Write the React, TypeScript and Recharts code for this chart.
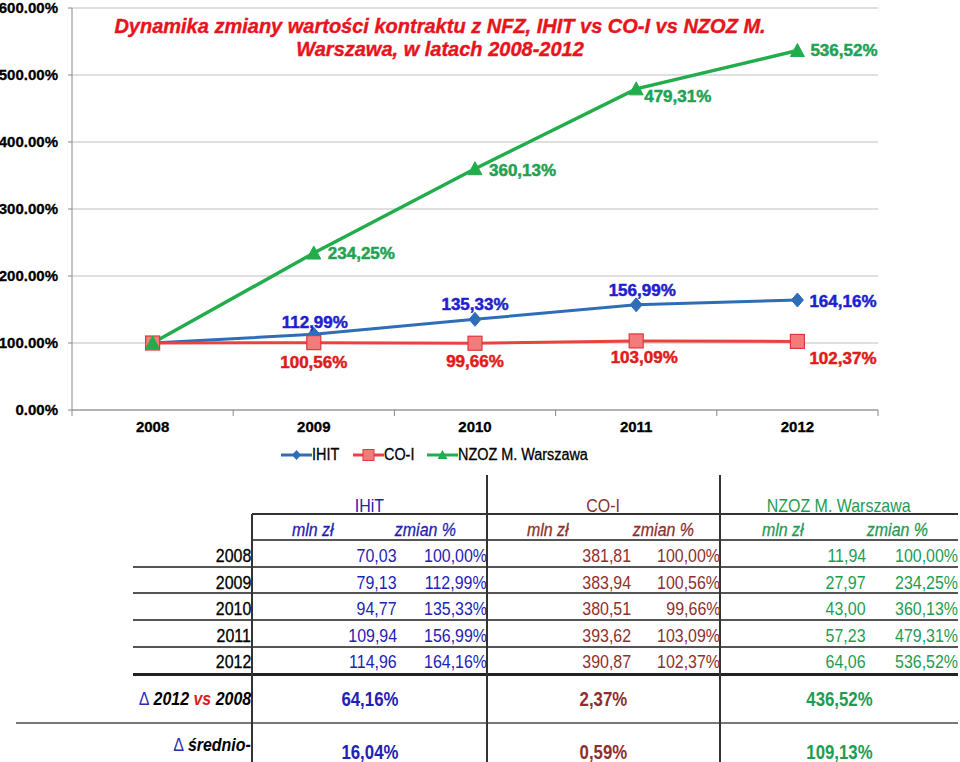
import React from "react";
import {
  LineChart,
  Line,
  XAxis,
  YAxis,
  CartesianGrid,
  Legend,
  LabelList,
} from "recharts";

// lata
const years = ["2008", "2009", "2010", "2011", "2012"];

// wartość kontraktu, mln zł
const ihitMln = [70.03, 79.13, 94.77, 109.94, 114.96];
const coiMln = [381.81, 383.94, 380.51, 393.62, 390.87];
const nzozMln = [11.94, 27.97, 43.0, 57.23, 64.06];

// dynamika, % (2008 = 100)
const ihitPct = [100.0, 112.99, 135.33, 156.99, 164.16];
const coiPct = [100.0, 100.56, 99.66, 103.09, 102.37];
const nzozPct = [100.0, 234.25, 360.13, 479.31, 536.52];

// podsumowanie
const delta2012vs2008 = [64.16, 2.37, 436.52];
const deltaAvg = [16.04, 0.59, 109.13];

const yTicks = [0, 100, 200, 300, 400, 500, 600];

const seriesNames = ["IHIT", "CO-I", "NZOZ M. Warszawa"];
const tableGroups = ["IHiT", "CO-I", "NZOZ M. Warszawa"];

const chartData = years.map((year, i) => ({
  year,
  ihit: ihitPct[i],
  coi: coiPct[i],
  nzoz: nzozPct[i],
}));

const C_IHIT_LINE = "#2F6DB8";
const C_IHIT_LABEL = "#1F1FCC";
const C_COI_LINE = "#E8433C";
const C_COI_LABEL = "#E01B1B";
const C_NZOZ_LINE = "#22AD4C";
const C_NZOZ_LABEL = "#1FA253";

const T_IHIT = "#1E22B4";
const T_COI = "#8E2F2F";
const T_NZOZ = "#1E9C52";

const BAND = (878 - 72) / years.length;
const ARIAL = "'Liberation Sans', Arial, sans-serif";
const SQUEEZE = 0.84;

const fmt = (v: number) => v.toFixed(2).replace(".", ",");

// where each data label sits relative to its point: [dx, dy, anchor]
type Place = [number, number, "start" | "middle" | "end"] | null;
const ihitPlaces: Place[] = [null, [1, -12, "middle"], [0, -15, "middle"], [6, -15, "middle"], [12, 1, "start"]];
const coiPlaces: Place[] = [null, [0, 19, "middle"], [0, 18, "middle"], [8, 16, "middle"], [12, 17, "start"]];
const nzozPlaces: Place[] = [null, [14, 0, "start"], [14, 1, "start"], [8, 7, "start"], [13, 0, "start"]];

const makeLabel = (color: string, places: Place[]) => (props: any) => {
  const { x, y, value, index } = props;
  const p = places[index];
  if (!p) return null;
  return (
    <text
      x={x + p[0]}
      y={y + p[1]}
      dy="0.35em"
      textAnchor={p[2]}
      fill={color}
      stroke={color}
      strokeWidth={0.5}
      fontFamily={ARIAL}
      fontWeight="bold"
      fontSize={17}
    >
      {fmt(value)}%
    </text>
  );
};

const Diamond = (props: any) => {
  const { cx, cy, index } = props;
  return (
    <path
      key={`d-${index}`}
      d={`M${cx},${cy - 7}L${cx + 6},${cy}L${cx},${cy + 7}L${cx - 6},${cy}Z`}
      fill={C_IHIT_LINE}
      stroke={C_IHIT_LINE}
    />
  );
};

const Square = (props: any) => {
  const { cx, cy, index } = props;
  return (
    <rect
      key={`s-${index}`}
      x={cx - 7}
      y={cy - 7}
      width={14}
      height={14}
      fill="#F47B7B"
      stroke="#E0363C"
      strokeWidth={1.2}
    />
  );
};

const Triangle = (props: any) => {
  const { cx, cy, index } = props;
  return (
    <path
      key={`t-${index}`}
      d={`M${cx},${cy - 7}L${cx + 7},${cy + 6}L${cx - 7},${cy + 6}Z`}
      fill={C_NZOZ_LINE}
      stroke={C_NZOZ_LINE}
    />
  );
};

const XTick = (props: any) => {
  const { x, y, payload, index } = props;
  const half = BAND / 2;
  return (
    <g>
      <line x1={x - half} x2={x - half} y1={y - 8} y2={y - 2} stroke="#888" />
      {index === years.length - 1 && (
        <line x1={x + half} x2={x + half} y1={y - 8} y2={y - 2} stroke="#888" />
      )}
      <text
        x={x}
        y={y + 9}
        dy="0.35em"
        textAnchor="middle"
        fontFamily={ARIAL}
        fontWeight="bold"
        fontSize={15}
        fill="#000"
        stroke="#000"
        strokeWidth={0.3}
      >
        {payload.value}
      </text>
    </g>
  );
};

const legendItems = [
  { name: seriesNames[0], color: C_IHIT_LINE, shape: "diamond" },
  { name: seriesNames[1], color: C_COI_LINE, shape: "square" },
  { name: seriesNames[2], color: C_NZOZ_LINE, shape: "triangle" },
];

const LegendContent = () => (
  <div
    style={{
      display: "flex",
      justifyContent: "center",
      alignItems: "center",
      height: 30,
      fontFamily: ARIAL,
      fontSize: 16,
      color: "#000",
      WebkitTextStroke: "0.3px #000",
    }}
  >
    {legendItems.map((it, i) => (
      <div
        key={it.name}
        style={{ display: "flex", alignItems: "center", marginLeft: i === 0 ? 0 : 16 }}
      >
        <svg width={31} height={14}>
          <line x1={0} x2={31} y1={7} y2={7} stroke={it.color} strokeWidth={3} />
          {it.shape === "diamond" && <path d="M15.5,2L20,7L15.5,12L11,7Z" fill={it.color} />}
          {it.shape === "square" && (
            <rect x={10} y={1.5} width={11} height={11} fill="#F47B7B" stroke="#E0363C" />
          )}
          {it.shape === "triangle" && <path d="M15.5,2L20.5,11L10.5,11Z" fill={it.color} />}
        </svg>
        <span
          style={{
            display: "inline-block",
            transform: "scaleX(0.9)",
            transformOrigin: "left center",
            marginRight: -6,
          }}
        >
          {it.name}
        </span>
      </div>
    ))}
  </div>
);

// ---------- table helpers ----------
const cell = (
  text: React.ReactNode,
  left: number,
  right: number,
  cy: number,
  style: React.CSSProperties,
  align: "left" | "right" | "center" = "right"
) => (
  <div
    style={{
      position: "absolute",
      left,
      width: right - left,
      top: cy - 12,
      height: 24,
      lineHeight: "24px",
      textAlign: align,
      whiteSpace: "nowrap",
      ...style,
    }}
  >
    <span
      style={{
        display: "inline-block",
        transform: `scaleX(${SQUEEZE})`,
        transformOrigin: align === "center" ? "center" : `${align} center`,
      }}
    >
      {text}
    </span>
  </div>
);

const hLine = (y: number, x1: number, x2: number, w: number, color: string) => (
  <div
    style={{
      position: "absolute",
      left: x1,
      top: y - w / 2,
      width: x2 - x1,
      height: w,
      background: color,
    }}
  />
);

const vLine = (x: number, y1: number, y2: number, w: number, color: string) => (
  <div
    style={{
      position: "absolute",
      left: x - w / 2,
      top: y1,
      width: w,
      height: y2 - y1,
      background: color,
    }}
  />
);

const groupColors = [T_IHIT, T_COI, T_NZOZ];
const groupLeft = [252, 487, 720];
const groupRight = [487, 720, 958];
const mlnRight = [397, 631, 866];
const mlnCenter = [313, 548, 783];
const pctCenter = [425, 663, 897];
const rowY = [556, 583, 609, 636, 662];
const rowLines = [567, 593, 620, 647];

export default function App() {
  const mlnCols = [ihitMln, coiMln, nzozMln];
  const pctCols = [ihitPct, coiPct, nzozPct];
  const dataFont: React.CSSProperties = { fontFamily: ARIAL, fontSize: 19 };

  return (
    <div
      style={{
        position: "absolute",
        left: 0,
        top: 0,
        width: 960,
        height: 762,
        background: "#fff",
        overflow: "hidden",
      }}
    >
      <LineChart
        width={960}
        height={470}
        data={chartData}
        margin={{ top: 8, right: 82, left: 0, bottom: 0 }}
      >
        <CartesianGrid vertical={false} stroke="#BFBFBF" />
        <XAxis
          dataKey="year"
          scale="band"
          height={30}
          axisLine={{ stroke: "#888" }}
          tickLine={false}
          tickSize={6}
          tickMargin={2}
          tick={<XTick />}
          interval={0}
        />
        <YAxis
          width={72}
          domain={[0, 600]}
          ticks={yTicks}
          interval={0}
          axisLine={{ stroke: "#888" }}
          tickLine={{ stroke: "#888" }}
          tickSize={4}
          tickMargin={10}
          tickFormatter={(v: number) => `${v.toFixed(2)}%`}
          tick={{ fontFamily: ARIAL, fontWeight: "bold", fontSize: 15, fill: "#000", stroke: "#000", strokeWidth: 0.3 }}
        />
        <Legend verticalAlign="bottom" height={30} content={<LegendContent />} />
        <Line
          dataKey="ihit"
          name={seriesNames[0]}
          stroke={C_IHIT_LINE}
          strokeWidth={3}
          dot={Diamond}
          isAnimationActive={false}
        >
          <LabelList dataKey="ihit" content={makeLabel(C_IHIT_LABEL, ihitPlaces)} />
        </Line>
        <Line
          dataKey="coi"
          name={seriesNames[1]}
          stroke={C_COI_LINE}
          strokeWidth={3}
          dot={Square}
          isAnimationActive={false}
        >
          <LabelList dataKey="coi" content={makeLabel(C_COI_LABEL, coiPlaces)} />
        </Line>
        <Line
          dataKey="nzoz"
          name={seriesNames[2]}
          stroke={C_NZOZ_LINE}
          strokeWidth={3.5}
          dot={Triangle}
          isAnimationActive={false}
        >
          <LabelList dataKey="nzoz" content={makeLabel(C_NZOZ_LABEL, nzozPlaces)} />
        </Line>
      </LineChart>

      {/* tytuł */}
      <div
        style={{
          position: "absolute",
          left: 0,
          width: 880,
          top: 15,
          textAlign: "center",
          fontFamily: ARIAL,
          fontWeight: "bold",
          fontStyle: "italic",
          fontSize: 20,
          lineHeight: "23px",
          color: "#E8141B",
          WebkitTextStroke: "0.4px #E8141B",
        }}
      >
        Dynamika zmiany wartości kontraktu z NFZ, IHIT vs CO-I vs NZOZ M.
        <br />
        Warszawa, w latach 2008-2012
      </div>

      {/* tabela */}
      {hLine(514, 252, 958, 1.5, "#333")}
      {hLine(540, 252, 958, 1.5, "#555")}
      {rowLines.map((y) => (
        <React.Fragment key={y}>{hLine(y, 133, 958, 1.5, "#555")}</React.Fragment>
      ))}
      {hLine(674, 133, 958, 3, "#222")}
      {hLine(723, 16, 958, 2, "#777")}
      {vLine(252, 514, 762, 1.5, "#333")}
      {vLine(487, 475, 762, 1.5, "#333")}
      {vLine(720, 475, 762, 1.5, "#333")}

      {tableGroups.map((g, k) => (
        <React.Fragment key={g}>
          {cell(g, groupLeft[k], groupRight[k], 506, { ...dataFont, color: groupColors[k] }, "center")}
          {cell("mln zł", mlnCenter[k] - 50, mlnCenter[k] + 50, 530, { ...dataFont, fontStyle: "italic", color: groupColors[k], WebkitTextStroke: `0.3px ${groupColors[k]}` }, "center")}
          {cell("zmian %", pctCenter[k] - 50, pctCenter[k] + 50, 530, { ...dataFont, fontStyle: "italic", color: groupColors[k], WebkitTextStroke: `0.3px ${groupColors[k]}` }, "center")}
          {years.map((y, i) => (
            <React.Fragment key={y}>
              {cell(fmt(mlnCols[k][i]), mlnRight[k] - 100, mlnRight[k], rowY[i], { ...dataFont, color: groupColors[k] })}
              {cell(`${fmt(pctCols[k][i])}%`, groupRight[k] - 100, groupRight[k], rowY[i], { ...dataFont, color: groupColors[k] })}
            </React.Fragment>
          ))}
          {cell(`${fmt(delta2012vs2008[k])}%`, groupLeft[k], groupRight[k], 699, { ...dataFont, fontWeight: "bold", fontSize: 20, color: groupColors[k] }, "center")}
          {cell(`${fmt(deltaAvg[k])}%`, groupLeft[k], groupRight[k], 752, { ...dataFont, fontWeight: "bold", fontSize: 20, color: groupColors[k] }, "center")}
        </React.Fragment>
      ))}

      {years.map((y, i) => (
        <React.Fragment key={y}>
          {cell(y, 150, 251, rowY[i], { ...dataFont, color: "#000", WebkitTextStroke: "0.3px #000" })}
        </React.Fragment>
      ))}
      {cell(
        <>
          <span style={{ color: "#2A2AB0", fontStyle: "normal", fontWeight: "normal" }}>∆</span> 2012{" "}
          <span style={{ color: "#E01B1B" }}>vs</span> 2008
        </>,
        100,
        251,
        699,
        { ...dataFont, fontWeight: "bold", fontStyle: "italic", color: "#000" }
      )}
      {cell(
        <>
          <span style={{ color: "#2A2AB0", fontStyle: "normal", fontWeight: "normal" }}>∆</span> średnio-
        </>,
        100,
        251,
        745,
        { ...dataFont, fontWeight: "bold", fontStyle: "italic", color: "#000" }
      )}
    </div>
  );
}
